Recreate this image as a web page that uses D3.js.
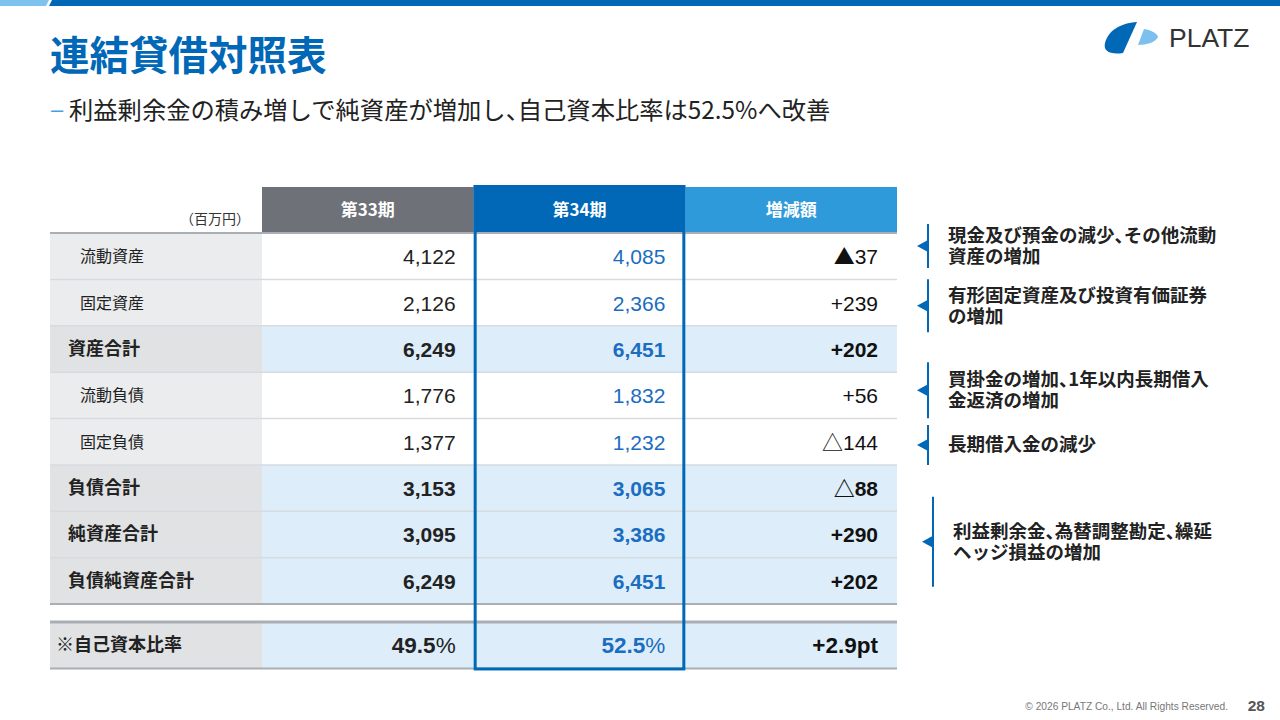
<!DOCTYPE html>
<html>
<head>
<meta charset="utf-8">
<script src="https://cdn.jsdelivr.net/npm/d3@7"></script>
<style>
  body { margin: 0; background: #fff; }
  svg { display: block; }
  text { font-family: "Liberation Sans", Arial, "Noto Sans CJK JP", sans-serif; }
  .jp { font-family: "Noto Sans CJK JP", "Liberation Sans", sans-serif; }
  .half { font-feature-settings: "halt"; }
</style>
</head>
<body>
<svg width="1280" height="720"></svg>
<script>
// table data
var rowLabels = ["流動資産", "固定資産", "資産合計", "流動負債", "固定負債", "負債合計", "純資産合計", "負債純資産合計", "※自己資本比率"]
var rowIsTotal = [false, false, true, false, false, true, true, true, true]
var period33 = [4122, 2126, 6249, 1776, 1377, 3153, 3095, 6249, 49.5]
var period34 = [4085, 2366, 6451, 1832, 1232, 3065, 3386, 6451, 52.5]
var diffLabels = ["▲37", "+239", "+202", "+56", "△144", "△88", "+290", "+202", "+2.9pt"]
var columnHeaders = ["第33期", "第34期", "増減額"]
var unitLabel = "（百万円）"

// side notes
var notes = [
    ["現金及び預金の減少、その他流動", "資産の増加"],
    ["有形固定資産及び投資有価証券", "の増加"],
    ["買掛金の増加、1年以内長期借入", "金返済の増加"],
    ["長期借入金の減少"],
    ["利益剰余金、為替調整勘定、繰延", "ヘッジ損益の増加"]
]

var title = "連結貸借対照表"
var subtitle = "利益剰余金の積み増しで純資産が増加し、自己資本比率は52.5%へ改善"

var blue = "#0068b7"
var svg = d3.select("svg")

// puts text into a <text> (or tspan), with the Japanese comma set half width
function jpText(sel, str) {
    var parts = str.split("、")
    parts.forEach(function(p, i) {
        if (i > 0) sel.append("tspan").attr("class", "half").text("、")
        sel.append("tspan").text(p)
    })
}

// diff labels: triangle marks come from the CJK font
function diffText(sel, str) {
    var m = str.match(/^([▲△]?)(.*)$/)
    if (m[1]) sel.append("tspan").attr("class", "jp").text(m[1])
    sel.append("tspan").text(m[2])
}

// ratio values: bold digits, plain percent sign
function pctText(sel, v) {
    sel.append("tspan").text(d3.format(".1f")(v))
    sel.append("tspan").attr("font-weight", "normal").text("%")
}

// top bar
svg.append("path").attr("d", "M0,0 L49,0 L46,6 L0,6 Z").attr("fill", "#7fc2ee")
svg.append("path").attr("d", "M52,0 L1280,0 L1280,6 L49,6 Z").attr("fill", blue)

// title + subtitle
svg.append("text").attr("class", "jp")
    .attr("x", 50).attr("y", 70)
    .attr("font-size", 39.5).attr("font-weight", "bold")
    .attr("fill", blue).text(title)
svg.append("text")
    .attr("x", 51).attr("y", 117)
    .attr("font-size", 22).attr("fill", "#4a9fe0").text("–")
svg.append("text").attr("class", "jp")
    .attr("x", 69).attr("y", 119)
    .attr("font-size", 24.3).attr("fill", "#222")
    .call(jpText, subtitle)

// logo
var logo = svg.append("g")
logo.append("path")
    .attr("d", "M1137,22 L1123,53 C1110,55 1103,51 1105,43 C1108,31 1120,23 1137,22 Z")
    .attr("fill", blue)
logo.append("path")
    .attr("d", "M1144,29 C1151,30 1157,33 1158,37 C1156,42 1147,45 1138,45 Z")
    .attr("fill", "#7cc0ee")
logo.append("text")
    .attr("x", 1169).attr("y", 47)
    .attr("font-size", 26.5).attr("fill", "#333").text("PLATZ")

// table scales
var tableLeft = 50, tableRight = 897
var headerTop = 187, headerBottom = 233
var rowH = 46.375
var gapRows = 0.39

var x = d3.scaleBand()
    .domain(columnHeaders)
    .range([262, tableRight])

var rows = rowLabels.map(function(label, i) {
    return {
        label: label,
        total: rowIsTotal[i],
        ratio: i === rowLabels.length - 1,
        pos: i + (i === rowLabels.length - 1 ? gapRows : 0),
        v33: period33[i],
        v34: period34[i],
        diff: diffLabels[i]
    }
})

var y = d3.scaleLinear()
    .domain([0, rowLabels.length - 1 + gapRows])
    .range([headerBottom, headerBottom + (rowLabels.length - 1 + gapRows) * rowH])

var fmtNum = d3.format(",")

// header cells
var headerFills = ["#6e7278", blue, "#2f9ad9"]
svg.selectAll(".hdr")
    .data(columnHeaders)
    .enter().append("rect")
    .attr("x", function(d) { return x(d) })
    .attr("y", function(d, i) { return i === 1 ? headerTop - 2 : headerTop })
    .attr("width", x.bandwidth())
    .attr("height", function(d, i) { return headerBottom - headerTop + (i === 1 ? 2 : 0) })
    .attr("fill", function(d, i) { return headerFills[i] })
svg.selectAll(".hdrText")
    .data(columnHeaders)
    .enter().append("text").attr("class", "jp")
    .attr("x", function(d) { return x(d) + x.bandwidth() / 2 })
    .attr("y", (headerTop + headerBottom) / 2 + 6)
    .attr("text-anchor", "middle")
    .attr("font-size", 17).attr("font-weight", "bold")
    .attr("fill", "#fff")
    .text(function(d) { return d })

svg.append("text").attr("class", "jp")
    .attr("x", 250).attr("y", 224)
    .attr("text-anchor", "end")
    .attr("font-size", 14).attr("fill", "#333")
    .text(unitLabel)

// rows
var rowG = svg.selectAll(".row")
    .data(rows)
    .enter().append("g")
    .attr("transform", function(d) { return "translate(0," + y(d.pos) + ")" })

rowG.append("rect")
    .attr("x", tableLeft).attr("width", x(columnHeaders[0]) - tableLeft)
    .attr("height", rowH)
    .attr("fill", function(d) { return d.total ? "#e1e2e4" : "#ebecee" })
rowG.append("rect")
    .attr("x", x(columnHeaders[0])).attr("width", tableRight - x(columnHeaders[0]))
    .attr("height", rowH)
    .attr("fill", function(d) { return d.total ? "#ddedf9" : "#fff" })

// row separators
rowG.filter(function(d, i) { return i > 0 && !d.ratio })
    .append("line")
    .attr("x1", tableLeft).attr("x2", tableRight)
    .attr("y1", 0).attr("y2", 0)
    .attr("stroke", "#d7dbe0").attr("stroke-width", 1.5)

rowG.append("text").attr("class", "jp")
    .attr("x", function(d) { return d.ratio ? 56 : (d.total ? 68 : 80) })
    .attr("y", rowH / 2 + 6)
    .attr("font-size", function(d) { return d.total ? 18 : 16 })
    .attr("font-weight", function(d) { return d.total ? "bold" : "normal" })
    .attr("fill", "#222")
    .text(function(d) { return d.label })

var valSize = function(d) { return d.ratio ? 22.5 : 21 }
var valWeight = function(d) { return d.total ? "bold" : "normal" }
rowG.append("text")
    .attr("x", x(columnHeaders[0]) + x.bandwidth() - 18)
    .attr("y", rowH / 2 + 8)
    .attr("text-anchor", "end")
    .attr("font-size", valSize)
    .attr("font-weight", valWeight)
    .attr("fill", "#222")
    .each(function(d) {
        if (d.ratio) pctText(d3.select(this), d.v33)
        else d3.select(this).text(fmtNum(d.v33))
    })
rowG.append("text")
    .attr("x", x(columnHeaders[1]) + x.bandwidth() - 20)
    .attr("y", rowH / 2 + 8)
    .attr("text-anchor", "end")
    .attr("font-size", valSize)
    .attr("font-weight", valWeight)
    .attr("fill", "#1a6dc0")
    .each(function(d) {
        if (d.ratio) pctText(d3.select(this), d.v34)
        else d3.select(this).text(fmtNum(d.v34))
    })
rowG.append("text")
    .attr("x", x(columnHeaders[2]) + x.bandwidth() - 19)
    .attr("y", rowH / 2 + 8)
    .attr("text-anchor", "end")
    .attr("font-size", valSize)
    .attr("font-weight", valWeight)
    .attr("fill", "#111")
    .each(function(d) { diffText(d3.select(this), d.diff) })

// heavier rules
var lastPos = rows[rows.length - 1].pos
var rules = [
    { y: headerBottom, w: 2 },
    { y: y(lastPos - gapRows), w: 2 },
    { y: y(lastPos), w: 3 },
    { y: y(lastPos) + rowH, w: 2 }
]
svg.selectAll(".rule")
    .data(rules)
    .enter().append("line")
    .attr("x1", tableLeft).attr("x2", tableRight)
    .attr("y1", function(d) { return d.y }).attr("y2", function(d) { return d.y })
    .attr("stroke", "#a9aeb4").attr("stroke-width", function(d) { return d.w })

// highlight box for 第34期
svg.append("rect")
    .attr("x", x(columnHeaders[1]) + 1.5)
    .attr("y", headerTop - 0.5)
    .attr("width", x.bandwidth() - 3)
    .attr("height", y(lastPos) + rowH + 1 - headerTop)
    .attr("fill", "none")
    .attr("stroke", blue).attr("stroke-width", 3)

// notes
var noteCenters = [0.28, 1.57, 3.39, 4.57, 6.66]
var noteHalf = [22, 26.5, 28, 20, 45]
var noteShift = [0, 0, 0, 0, 5]
var lineGap = 21.5
var noteG = svg.selectAll(".note")
    .data(notes)
    .enter().append("g")
    .attr("transform", function(d, i) {
        return "translate(" + (928 + noteShift[i]) + "," + y(noteCenters[i]) + ")"
    })
noteG.append("line")
    .attr("x1", 0).attr("x2", 0)
    .attr("y1", function(d, i) { return -noteHalf[i] })
    .attr("y2", function(d, i) { return noteHalf[i] })
    .attr("stroke", blue).attr("stroke-width", 2)
noteG.append("path")
    .attr("d", "M-11,0 L0,-6 L0,6 Z")
    .attr("fill", blue)
// one text block per note, lines as tspans
noteG.append("text").attr("class", "jp")
    .attr("y", function(d) { return -(d.length - 1) / 2 * lineGap + 6.5 })
    .attr("font-size", 18.5).attr("font-weight", "bold")
    .attr("fill", "#222")
    .each(function(d) {
        var t = d3.select(this)
        d.forEach(function(line, j) {
            var ts = t.append("tspan").attr("x", 20).attr("dy", j === 0 ? 0 : lineGap)
            jpText(ts, line)
        })
    })

// footer
svg.append("text")
    .attr("x", 1228).attr("y", 710)
    .attr("text-anchor", "end")
    .attr("font-size", 10.2).attr("fill", "#777")
    .text("© 2026 PLATZ Co., Ltd. All Rights Reserved.")
svg.append("text")
    .attr("x", 1265).attr("y", 711)
    .attr("text-anchor", "end")
    .attr("font-size", 15.5).attr("font-weight", "bold").attr("fill", "#555")
    .text("28")
</script>
</body>
</html>
